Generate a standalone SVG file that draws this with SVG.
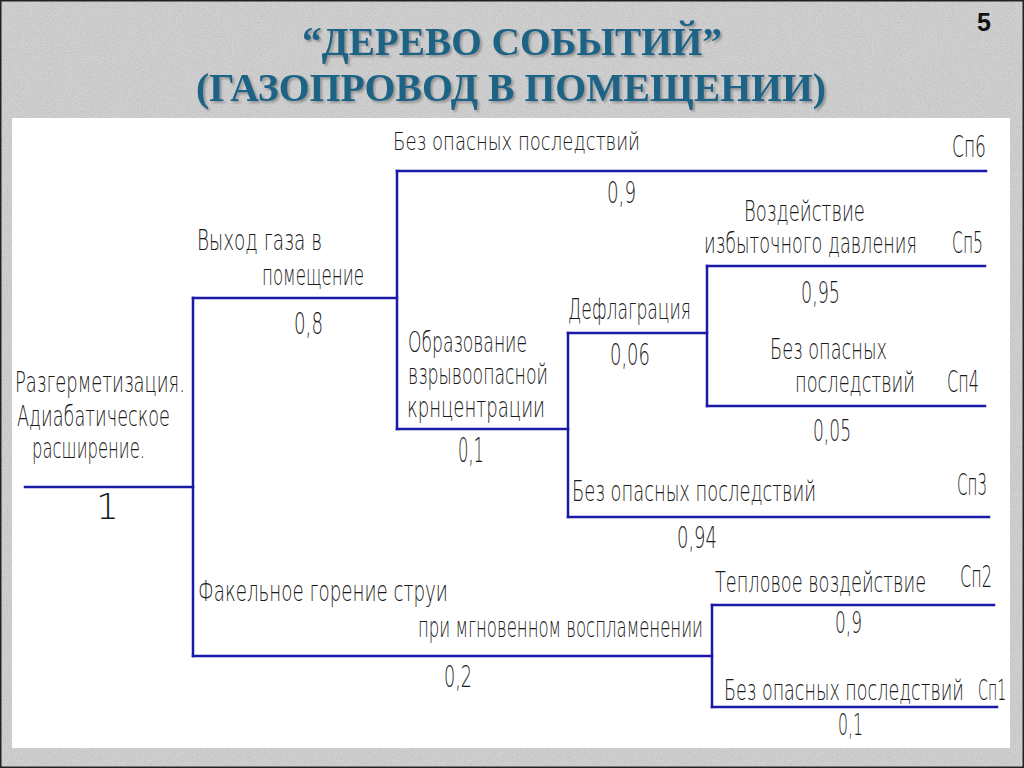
<svg xmlns="http://www.w3.org/2000/svg" width="1024" height="768" viewBox="0 0 1024 768">
<defs>
<filter id="noise" x="0" y="0" width="100%" height="100%">
<feTurbulence type="fractalNoise" baseFrequency="0.8" numOctaves="2" seed="7"/>
<feColorMatrix type="matrix" values="0.33 0.33 0.33 0 0  0.33 0.33 0.33 0 0  0.33 0.33 0.33 0 0  0 0 0 0 1"/>
</filter>
<filter id="shadow" x="-5%" y="-20%" width="110%" height="140%">
<feGaussianBlur in="SourceAlpha" stdDeviation="1.2"/>
<feOffset dx="2" dy="2" result="b"/>
<feFlood flood-color="#666" flood-opacity="0.55"/>
<feComposite in2="b" operator="in"/>
<feMerge><feMergeNode/><feMergeNode in="SourceGraphic"/></feMerge>
</filter>
</defs>
<style>
.t{font-family:"DejaVu Sans","DejaVu Sans Condensed","Liberation Sans",sans-serif;font-weight:200;font-size:28px;fill:#1a1a1a;}
.n{font-size:30px;}
.title{font-family:"Liberation Serif","DejaVu Serif",serif;font-weight:bold;font-size:39px;fill:#1a6486;}
.ln{stroke:#1a1aa6;stroke-width:2.5;fill:none;stroke-linecap:square;}
</style>
<rect x="0" y="0" width="1024" height="768" fill="#d6d6d6"/>
<rect x="0" y="0" width="1024" height="768" filter="url(#noise)" opacity="0.35"/>
<rect x="0.5" y="0.5" width="1023" height="767" fill="none" stroke="#222" stroke-width="2"/>
<rect x="12" y="118" width="998" height="630" fill="#ffffff"/>
<text x="977" y="31" style="font-family:'Liberation Sans',sans-serif;font-weight:bold;font-size:25px;fill:#111">5</text>
<g id="title" filter="url(#shadow)">
<text class="title" x="302" y="55" textLength="420" lengthAdjust="spacingAndGlyphs">“ДЕРЕВО СОБЫТИЙ”</text>
<text class="title" x="196" y="101" textLength="630" lengthAdjust="spacingAndGlyphs">(ГАЗОПРОВОД В ПОМЕЩЕНИИ)</text>
</g>
<g id="connectors">
<polyline class="ln" points="25,487 193,487"/>
<polyline class="ln" points="193,298 193,656"/>
<polyline class="ln" points="193,298 397,298"/>
<polyline class="ln" points="397,171 397,429"/>
<polyline class="ln" points="397,171 986,171"/>
<polyline class="ln" points="397,429 568,429"/>
<polyline class="ln" points="568,333 568,517"/>
<polyline class="ln" points="568,333 707,333"/>
<polyline class="ln" points="707,266 707,406"/>
<polyline class="ln" points="707,266 985,266"/>
<polyline class="ln" points="707,406 985,406"/>
<polyline class="ln" points="568,517 989,517"/>
<polyline class="ln" points="193,656 712,656"/>
<polyline class="ln" points="712,605 712,707"/>
<polyline class="ln" points="712,605 994,605"/>
<polyline class="ln" points="712,707 997,707"/>
</g>
<g id="root">
<text class="t" transform="translate(15,392) scale(0.677,1)" textLength="251" lengthAdjust="spacingAndGlyphs">Разгерметизация.</text>
<text class="t" transform="translate(17,426) scale(0.697,1)" textLength="219.5" lengthAdjust="spacingAndGlyphs">Адиабатическое</text>
<text class="t" transform="translate(32,458) scale(0.655,1)" textLength="172.5" lengthAdjust="spacingAndGlyphs">расширение.</text>
<text class="t" x="96" y="519" style="font-size:36px">1</text>
</g>
<g id="gas-out">
<text class="t" transform="translate(197,250) scale(0.665,1)" textLength="188" lengthAdjust="spacingAndGlyphs">Выход газа в</text>
<text class="t" transform="translate(262,285) scale(0.723,1)" textLength="141" lengthAdjust="spacingAndGlyphs">помещение</text>
<text class="t n" transform="translate(294,334) scale(0.674,1)" textLength="43" lengthAdjust="spacingAndGlyphs">0,8</text>
</g>
<g id="cp6">
<text class="t" style="font-size:25px" transform="translate(393,150) scale(0.767,1)" textLength="322" lengthAdjust="spacingAndGlyphs">Без опасных последствий</text>
<text class="t" style="font-size:31px" transform="translate(952,157) scale(0.654,1)" textLength="52" lengthAdjust="spacingAndGlyphs">Сп6</text>
<text class="t n" transform="translate(607,203) scale(0.674,1)" textLength="43" lengthAdjust="spacingAndGlyphs">0,9</text>
</g>
<g id="mixture">
<text class="t" transform="translate(408,352) scale(0.69,1)" textLength="172.5" lengthAdjust="spacingAndGlyphs">Образование</text>
<text class="t" transform="translate(408,384) scale(0.686,1)" textLength="204" lengthAdjust="spacingAndGlyphs">взрывоопасной</text>
<text class="t" transform="translate(407,417) scale(0.734,1)" textLength="188" lengthAdjust="spacingAndGlyphs">крнцентрации</text>
<text class="t n" style="font-size:33px" transform="translate(458,462) scale(0.551,1)" textLength="47.2" lengthAdjust="spacingAndGlyphs">0,1</text>
</g>
<g id="deflagration">
<text class="t" transform="translate(568,319) scale(0.713,1)" textLength="172.5" lengthAdjust="spacingAndGlyphs">Дефлаграция</text>
<text class="t n" transform="translate(610,365) scale(0.664,1)" textLength="60.2" lengthAdjust="spacingAndGlyphs">0,06</text>
</g>
<g id="cp5">
<text class="t" transform="translate(744,221) scale(0.701,1)" textLength="172.5" lengthAdjust="spacingAndGlyphs">Воздействие</text>
<text class="t" transform="translate(704,253) scale(0.679,1)" textLength="313.6" lengthAdjust="spacingAndGlyphs">избыточного давления</text>
<text class="t" style="font-size:30px" transform="translate(952,253) scale(0.615,1)" textLength="50.4" lengthAdjust="spacingAndGlyphs">Сп5</text>
<text class="t n" transform="translate(801,303) scale(0.648,1)" textLength="60.2" lengthAdjust="spacingAndGlyphs">0,95</text>
</g>
<g id="cp4">
<text class="t" transform="translate(770,359) scale(0.678,1)" textLength="172.5" lengthAdjust="spacingAndGlyphs">Без опасных</text>
<text class="t" transform="translate(795,392) scale(0.696,1)" textLength="172.5" lengthAdjust="spacingAndGlyphs">последствий</text>
<text class="t" style="font-size:30px" transform="translate(947,392) scale(0.635,1)" textLength="50.4" lengthAdjust="spacingAndGlyphs">Сп4</text>
<text class="t n" transform="translate(813,441) scale(0.631,1)" textLength="60.2" lengthAdjust="spacingAndGlyphs">0,05</text>
</g>
<g id="cp3">
<text class="t" transform="translate(572,501) scale(0.677,1)" textLength="360.6" lengthAdjust="spacingAndGlyphs">Без опасных последствий</text>
<text class="t" style="font-size:30px" transform="translate(957,495) scale(0.595,1)" textLength="50.4" lengthAdjust="spacingAndGlyphs">Сп3</text>
<text class="t n" transform="translate(677,548) scale(0.664,1)" textLength="60.2" lengthAdjust="spacingAndGlyphs">0,94</text>
</g>
<g id="torch">
<text class="t" transform="translate(198,601) scale(0.693,1)" textLength="360.6" lengthAdjust="spacingAndGlyphs">Факельное горение струи</text>
<text class="t" transform="translate(418,637) scale(0.649,1)" textLength="439" lengthAdjust="spacingAndGlyphs">при мгновенном воспламенении</text>
<text class="t n" transform="translate(444,687) scale(0.651,1)" textLength="43" lengthAdjust="spacingAndGlyphs">0,2</text>
</g>
<g id="cp2">
<text class="t" transform="translate(715,592) scale(0.673,1)" textLength="313.6" lengthAdjust="spacingAndGlyphs">Тепловое воздействие</text>
<text class="t" style="font-size:30px" transform="translate(960,587) scale(0.635,1)" textLength="50.4" lengthAdjust="spacingAndGlyphs">Сп2</text>
<text class="t n" transform="translate(835,633) scale(0.628,1)" textLength="43" lengthAdjust="spacingAndGlyphs">0,9</text>
</g>
<g id="cp1">
<text class="t" transform="translate(724,700) scale(0.665,1)" textLength="360.6" lengthAdjust="spacingAndGlyphs">Без опасных последствий</text>
<text class="t" transform="translate(978,700) scale(0.6,1)" textLength="47" lengthAdjust="spacingAndGlyphs">Сп1</text>
<text class="t n" transform="translate(838,735) scale(0.581,1)" textLength="43" lengthAdjust="spacingAndGlyphs">0,1</text>
</g>
</svg>
